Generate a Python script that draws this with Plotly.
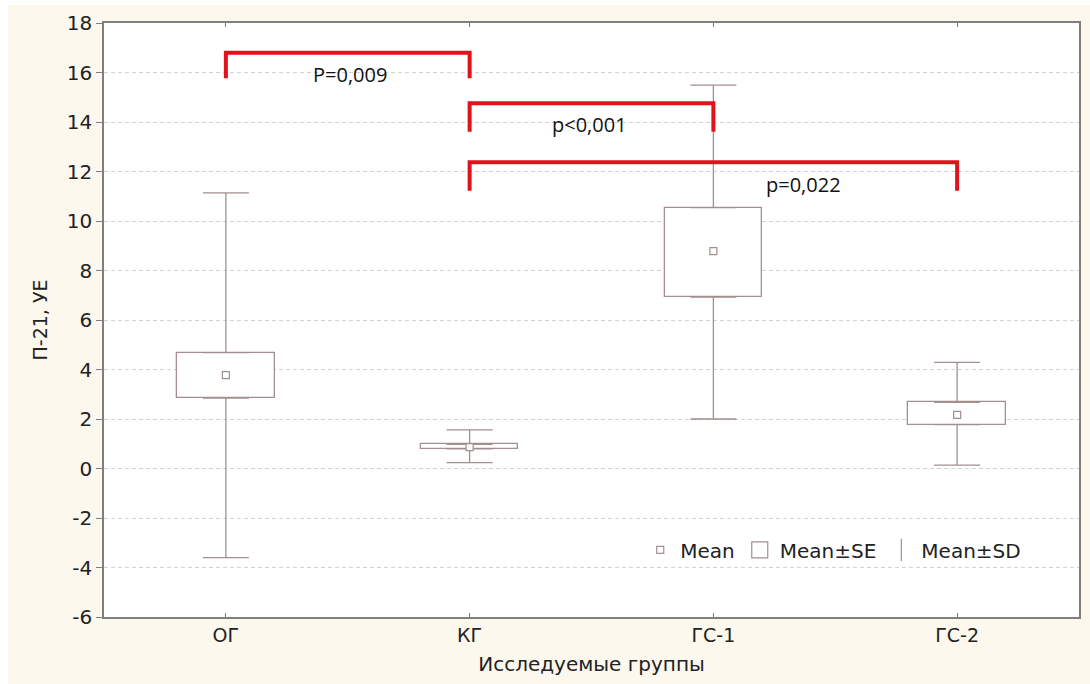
import plotly.graph_objects as go

# ---- data ----
categories = ["ОГ", "КГ", "ГС-1", "ГС-2"]
mean_vals = [3.77, 0.86, 8.78, 2.17]
se_low = [2.84, 0.79, 6.93, 1.77]
se_high = [4.68, 0.98, 10.54, 2.67]
sd_low = [-3.60, 0.24, 2.00, 0.14]
sd_high = [11.14, 1.56, 15.49, 4.29]

# significance brackets: (from index, to index), top, drop end, label, label position
br_from = [0, 1, 1]
br_to = [1, 2, 3]
br_top = [16.80, 14.76, 12.37]
br_bottom = [15.77, 13.61, 11.22]
br_labels = ["P=0,009", "p<0,001", "p=0,022"]
br_label_x = [0.51, 1.49, 2.37]
br_label_y = [15.93, 13.88, 11.49]

y_ticks = [-6, -4, -2, 0, 2, 4, 6, 8, 10, 12, 14, 16, 18]
y_ticktext = [str(v) for v in y_ticks]

LINE = "#a38f8f"
RED = "#e0121a"
CREAM = "#fcf8ee"

fig = go.Figure()

# SE boxes as bars
fig.add_trace(go.Bar(
    x=categories,
    y=[h - l for h, l in zip(se_high, se_low)],
    base=se_low,
    width=0.4,
    marker=dict(color="white", line=dict(color=LINE, width=1.3)),
    showlegend=False, hoverinfo="skip",
))

# upper whiskers (SE high -> SD high)
fig.add_trace(go.Scatter(
    x=categories, y=se_high, mode="markers",
    marker=dict(size=0.1, color="rgba(0,0,0,0)"),
    error_y=dict(type="data", symmetric=False,
                 array=[h - s for h, s in zip(sd_high, se_high)],
                 arrayminus=[0] * len(categories),
                 width=23, thickness=1.3, color=LINE),
    showlegend=False, hoverinfo="skip",
))
# lower whiskers (SD low -> SE low)
fig.add_trace(go.Scatter(
    x=categories, y=se_low, mode="markers",
    marker=dict(size=0.1, color="rgba(0,0,0,0)"),
    error_y=dict(type="data", symmetric=False,
                 array=[0] * len(categories),
                 arrayminus=[s - l for s, l in zip(se_low, sd_low)],
                 width=23, thickness=1.3, color=LINE),
    showlegend=False, hoverinfo="skip",
))
# means
fig.add_trace(go.Scatter(
    x=categories, y=mean_vals, mode="markers",
    marker=dict(symbol="square", size=7, color="white", line=dict(color=LINE, width=1.2)),
    showlegend=False,
))

# legend entries
fig.add_trace(go.Scatter(x=[None], y=[None], mode="markers", name="Mean",
                         marker=dict(symbol="square", size=7, color="white",
                                     line=dict(color=LINE, width=1.2))))
fig.add_trace(go.Scatter(x=[None], y=[None], mode="markers", name="Mean±SE",
                         marker=dict(symbol="square", size=16, color="white",
                                     line=dict(color=LINE, width=1.2))))
fig.add_trace(go.Scatter(x=[None], y=[None], mode="markers", name="Mean±SD",
                         marker=dict(symbol="line-ns", size=16, color=LINE,
                                     line=dict(color=LINE, width=1.2))))

# brackets
for f, t, top, bot in zip(br_from, br_to, br_top, br_bottom):
    fig.add_shape(type="path", xref="x", yref="y",
                  path=f"M {f},{bot} L {f},{top} L {t},{top} L {t},{bot}",
                  line=dict(color=RED, width=4))
for lx, ly, lab in zip(br_label_x, br_label_y, br_labels):
    fig.add_annotation(x=lx, y=ly, xref="x", yref="y", text=lab, showarrow=False,
                       font=dict(family="Open Sans", size=20, color="#111111"))

# white strips at the left and top edges of the picture
fig.add_shape(type="rect", xref="paper", yref="paper", layer="below",
              x0=-0.2, x1=(8 - 104) / 977, y0=-0.2, y1=1.2,
              fillcolor="white", line=dict(width=0))
fig.add_shape(type="rect", xref="paper", yref="paper", layer="below",
              x0=-0.2, x1=1.2, y0=(617 - 5) / 594, y1=1.2,
              fillcolor="white", line=dict(width=0))

fig.update_layout(
    width=1090, height=684,
    paper_bgcolor=CREAM, plot_bgcolor="white",
    margin=dict(l=104, r=9, t=23, b=67),
    font=dict(family="DejaVu Sans", size=19, color="#222222"),
    showlegend=True,
    legend=dict(orientation="h", x=0.55, y=0.113, xanchor="left", yanchor="middle",
                bgcolor="rgba(0,0,0,0)", font=dict(family="DejaVu Sans", size=20, color="#222222"),
                itemwidth=30, tracegroupgap=0),
    bargap=0,
)
fig.update_xaxes(
    type="category", range=[-0.5, 3.5],
    showline=True, linecolor="#7f7f7f", linewidth=1.5, mirror="ticks",
    ticks="inside", ticklen=4, tickcolor="#7f7f7f",
    showgrid=False, zeroline=False,
    title=dict(text="Исследуемые группы", standoff=12, font=dict(size=20)),
    tickfont=dict(size=19),
)
fig.update_yaxes(
    range=[-6, 18], tickvals=y_ticks, ticktext=y_ticktext,
    showline=True, linecolor="#7f7f7f", linewidth=1.5, mirror=True,
    ticks="outside", ticklen=6, tickcolor="#7f7f7f",
    showgrid=True, gridcolor="#d2d2d2", griddash="4px,3px", gridwidth=1,
    zeroline=False,
    title=dict(text="П-21, УЕ", standoff=14, font=dict(size=19)),
    tickfont=dict(size=20),
)

fig.write_html("out.html")
